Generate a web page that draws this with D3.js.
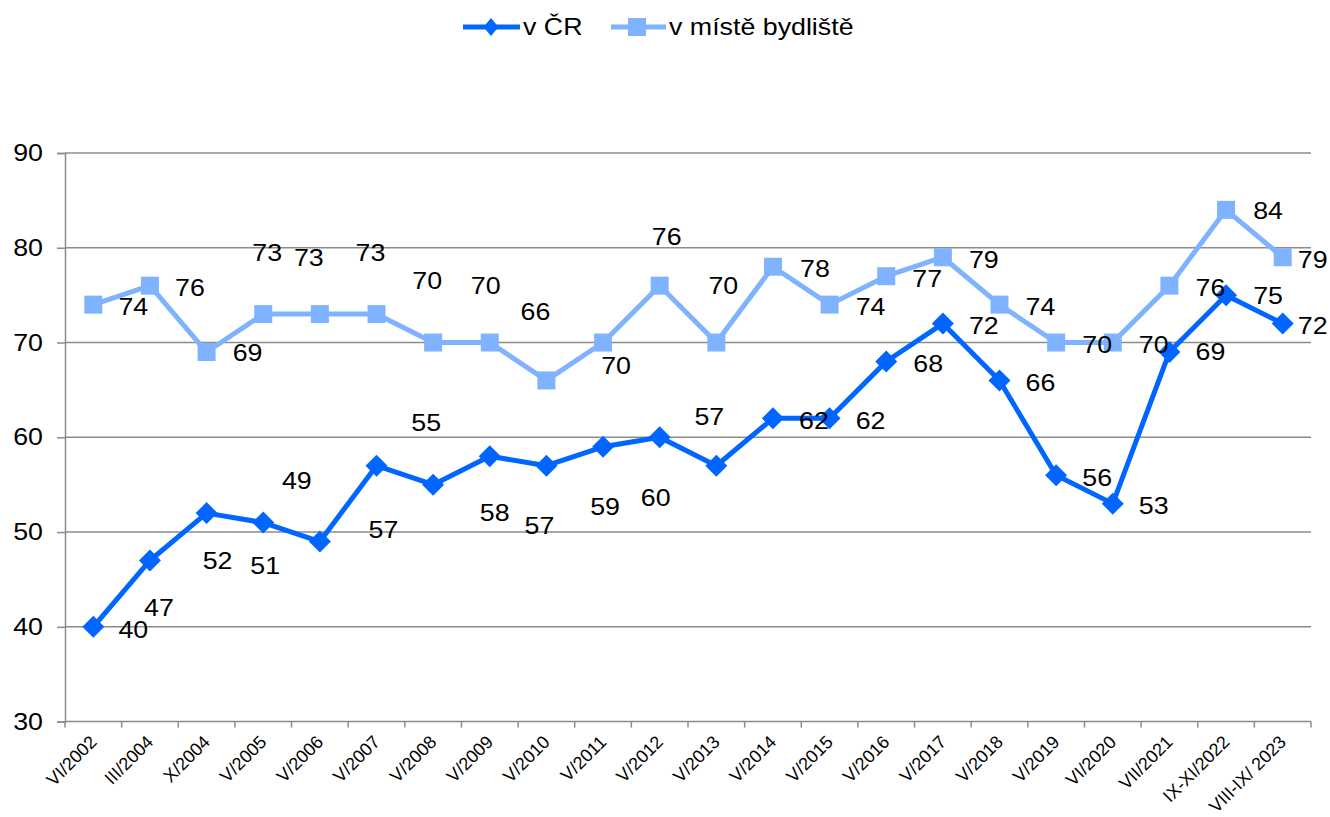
<!DOCTYPE html>
<html><head><meta charset="utf-8">
<script src="https://cdn.jsdelivr.net/npm/d3@7"></script>
<style>body{margin:0;background:#fff;} text{font-family:"Liberation Sans",Arial,sans-serif;}</style>
</head><body>
<svg id="chart" width="1330" height="817"></svg>
<script>
const categories = ["VI/2002","III/2004","X/2004","V/2005","V/2006","V/2007","V/2008","V/2009","V/2010","V/2011","V/2012","V/2013","V/2014","V/2015","V/2016","V/2017","V/2018","V/2019","VI/2020","VII/2021","IX-XI/2022","VIII-IX/ 2023"];
const seriesNames = ["v ČR", "v místě bydliště"];
const valuesCR = [40,47,52,51,49,57,55,58,57,59,60,57,62,62,68,72,66,56,53,69,75,72];
const valuesBydliste = [74,76,69,73,73,73,70,70,66,70,76,70,78,74,77,79,74,70,70,76,84,79];
const yTicks = [30,40,50,60,70,80,90];

// label offsets (relative to point) as placed in the original chart
const offCR = [[40,3],[9,47],[11,47],[2,43],[-23,-61],[7,64],[-7,-62],[5,56],[-7,60],[2,60],[-4,60],[-7,-49],[41,2],[41,2],[42,2],[41,2],[41,2],[41,2],[41,2],[41,0],[42,0],[30,2]];
const offBy = [[40,2],[40,2],[41,1],[4,-62],[-11,-57],[-6,-62],[-6,-62],[-4,-57],[-11,-69],[13,23],[7,-49],[7,-57],[42,2],[41,2],[41,2],[41,2],[41,2],[41,2],[41,2],[41,2],[42,1],[30,2]];

const colCR = "#0066FF", colBy = "#80B3FF", gridCol = "#8C8C8C";
const FS = 23.5, SX = 1.14;
const svg = d3.select("#chart");
const m = {left:65, right:1311, top:153, bottom:721.6};
const x = d3.scaleBand().domain(categories).range([m.left, m.right]);
const y = d3.scaleLinear().domain([30,90]).range([m.bottom, m.top]);
const cx = d => x(d) + x.bandwidth()/2;

// gridlines
svg.append("g").selectAll("line").data(yTicks.filter(t=>t>30)).join("line")
  .attr("x1", m.left).attr("x2", m.right).attr("y1", d=>y(d)).attr("y2", d=>y(d))
  .attr("stroke", gridCol).attr("stroke-width", 1.5);

// y axis
const yAxis = svg.append("g").attr("transform", `translate(${m.left},0)`)
  .call(d3.axisLeft(y).tickValues(yTicks).tickSize(8).tickPadding(14));
yAxis.select(".domain").attr("stroke", gridCol).attr("stroke-width", 1.5);
yAxis.selectAll(".tick line").attr("stroke", gridCol).attr("stroke-width", 1.5);
yAxis.selectAll(".tick text").attr("font-size", FS).attr("fill", "#000")
  .attr("x", -22/SX).attr("transform", `scale(${SX},1)`)
  .attr("font-family", "Liberation Sans, Arial, sans-serif");

// x axis (ticks at category boundaries)
const xg = svg.append("g");
xg.append("line").attr("x1", m.left).attr("x2", m.right).attr("y1", m.bottom).attr("y2", m.bottom)
  .attr("stroke", gridCol).attr("stroke-width", 1.5);
const bounds = categories.map(c => x(c)).concat([x(categories[categories.length-1]) + x.bandwidth()]);
xg.selectAll("line.tk").data(bounds).join("line").attr("class","tk")
  .attr("x1", d=>d).attr("x2", d=>d).attr("y1", m.bottom).attr("y2", m.bottom+6)
  .attr("stroke", gridCol).attr("stroke-width", 1.5);
xg.selectAll("text").data(categories).join("text")
  .attr("transform", d => `translate(${cx(d)},${m.bottom+17}) rotate(-45)`)
  .attr("text-anchor", "end").attr("dy", "0.35em")
  .attr("font-size", 18).attr("fill", "#000").text(d => d);

// lines
const line = d3.line().x((d,i)=>cx(categories[i])).y(d=>y(d));
svg.append("path").datum(valuesBydliste).attr("d", line).attr("fill","none")
  .attr("stroke", colBy).attr("stroke-width", 5).attr("stroke-linejoin","round");
svg.append("path").datum(valuesCR).attr("d", line).attr("fill","none")
  .attr("stroke", colCR).attr("stroke-width", 5).attr("stroke-linejoin","round");

// markers
const sq = 18, dm = 11;
svg.append("g").selectAll("rect").data(valuesBydliste).join("rect")
  .attr("x", (d,i)=>cx(categories[i])-sq/2).attr("y", d=>y(d)-sq/2)
  .attr("width", sq).attr("height", sq).attr("fill", colBy);
svg.append("g").selectAll("path").data(valuesCR).join("path")
  .attr("d", (d,i)=>{const px=cx(categories[i]), py=y(d); return `M${px},${py-dm}L${px+dm},${py}L${px},${py+dm}L${px-dm},${py}Z`;})
  .attr("fill", colCR);

// labels
function labels(vals, offs){
  svg.append("g").selectAll("text").data(vals).join("text")
    .attr("transform", (d,i)=>`translate(${cx(categories[i]) + offs[i][0]},${y(d) + offs[i][1]}) scale(${SX},1)`)
    .attr("dy", "0.36em").attr("text-anchor","middle")
    .attr("font-size", FS).attr("fill","#000").text(d=>d);
}
labels(valuesBydliste, offBy);
labels(valuesCR, offCR);

// legend
const lg = svg.append("g");
const ly = 27, ldx = 7.5, ldy = 9;
lg.append("line").attr("x1",463).attr("x2",520).attr("y1",ly).attr("y2",ly).attr("stroke",colCR).attr("stroke-width",5);
lg.append("path").attr("d",`M491,${ly-ldy}L${491+ldx},${ly}L491,${ly+ldy}L${491-ldx},${ly}Z`).attr("fill",colCR);
lg.append("text").attr("transform",`translate(523,${ly}) scale(${SX},1)`).attr("dy","0.36em").attr("font-size",FS).text(seriesNames[0]);
lg.append("line").attr("x1",611).attr("x2",666).attr("y1",ly).attr("y2",ly).attr("stroke",colBy).attr("stroke-width",5);
lg.append("rect").attr("x",637-sq/2).attr("y",ly-sq/2).attr("width",sq).attr("height",sq).attr("fill",colBy);
lg.append("text").attr("transform",`translate(669,${ly}) scale(${SX},1)`).attr("dy","0.36em").attr("font-size",FS).text(seriesNames[1]);
</script>
</body></html>
